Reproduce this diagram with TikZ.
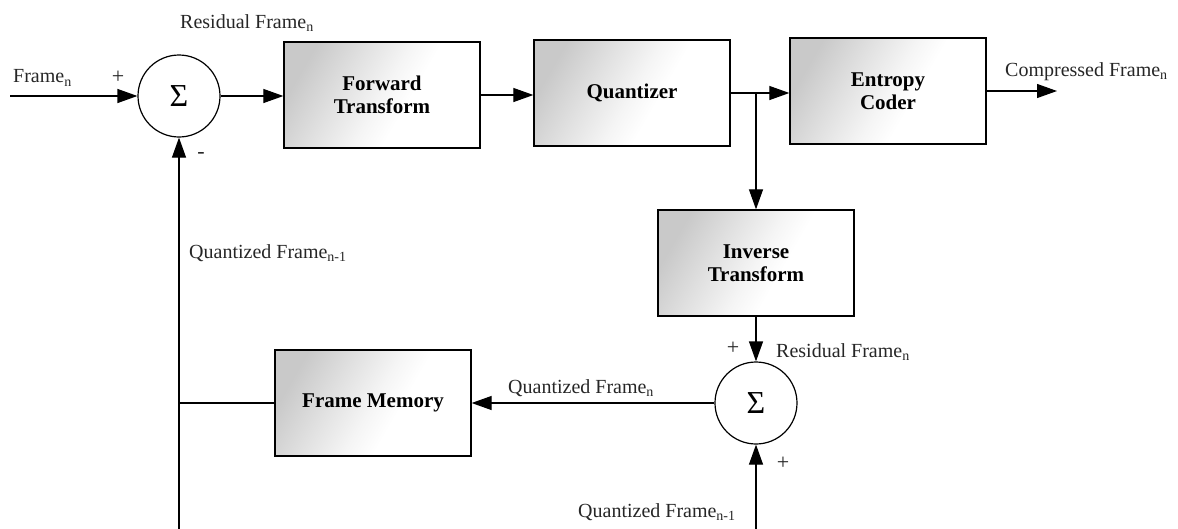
\documentclass[tikz,border=0pt]{standalone}
\usepackage{fontspec}
\setmainfont{Liberation Serif}
\usetikzlibrary{arrows.meta,calc}
% grey wash across the blocks: darkest on the left, white from about two thirds across
% (TikZ maps the box onto the 25bp..75bp band of the shading)
\pgfdeclarehorizontalshading{boxwash}{100bp}{color(0bp)=(black!21); color(25bp)=(black!21); color(38bp)=(black!12); color(50bp)=(black!4); color(58bp)=(white); color(100bp)=(white)}
\begin{document}
\begin{tikzpicture}[x=1pt,y=-1pt]
\tikzset{
  box/.style={draw, line width=1.3pt, minimum width=196pt, minimum height=106pt,
    inner sep=0pt, align=center, font=\fontsize{21}{23}\selectfont\bfseries,
    path picture={\shade[shading=boxwash, shading angle=-30]
      (path picture bounding box.north west) rectangle (path picture bounding box.south east);}},
  sum/.style={draw, circle, line width=1.2pt, minimum size=82pt, inner sep=0pt,
    font=\fontsize{32}{32}\selectfont},
  lbl/.style={font=\fontsize{20}{22}\selectfont, text=black!85, inner sep=0pt},
  sgn/.style={font=\fontsize{22}{22}\selectfont, text=black!85, inner sep=0pt},
  sig/.style={line width=1.2pt},
  arr/.style={sig, -{Triangle[length=20pt,width=14pt]}},
}
\useasboundingbox (0,0) rectangle (1178,528);

% blocks and summing junctions
\node[sum] (s1) at (179,96) {Σ};
\node[box] (ft) at (382,95) {Forward\\Transform};
\node[box] (q)  at (632,93) {Quantizer};
\node[box] (ec) at (888,91) {Entropy\\Coder};
\node[box] (it) at (756,263) {Inverse\\Transform};
\node[box] (fm) at (373,403) {Frame Memory};
\node[sum] (s2) at (756,403) {Σ};

% free ends of the signal lines
\coordinate (in)   at (10,96);
\coordinate (out)  at (1057,91);
\coordinate (lbot) at (179,530);
\coordinate (rbot) at (756,530);

% forward path
\draw[arr] (in) -- (s1);
\draw[arr] (s1) -- (s1 -| ft.west);
\draw[arr] (ft.east) -- (ft.east -| q.west);
\draw[arr] (q.east) -- (q.east -| ec.west);
\draw[arr] (ec.east) -- (out);

% reconstruction loop
\draw[arr] (q.east -| it.north) -- (it.north);
\draw[arr] (it.south) -- (s2.north);
\draw[arr] (s2.west) -- (fm.east);
\draw[sig] (fm.west) -- (fm.west -| lbot);
\draw[arr] (lbot) -- (s1.south);
\draw[arr] (rbot) -- (s2.south);

% signal labels
\node[lbl, anchor=west] (tin)  at (13,78)   {Frame\textsubscript{n}};
\node[sgn] (p1) at (118,77) {+};
\node[sgn] (m1) at (201,155) {-};
\node[lbl, anchor=west] (tres) at (180,23)  {Residual Frame\textsubscript{n}};
\node[lbl, anchor=west] (tout) at (1005,72) {Compressed Frame\textsubscript{n}};
\node[lbl, anchor=west] (tq1)  at (189,253) {Quantized Frame\textsubscript{n-1}};
\node[sgn] (p2) at (733,348) {+};
\node[lbl, anchor=west] (tres2) at (776,352) {Residual Frame\textsubscript{n}};
\node[lbl, anchor=west] (tqn)  at (508,388) {Quantized Frame\textsubscript{n}};
\node[sgn] (p3) at (783,463) {+};
\node[lbl, anchor=west] (tq2)  at (578,512) {Quantized Frame\textsubscript{n-1}};
\end{tikzpicture}
\end{document}
